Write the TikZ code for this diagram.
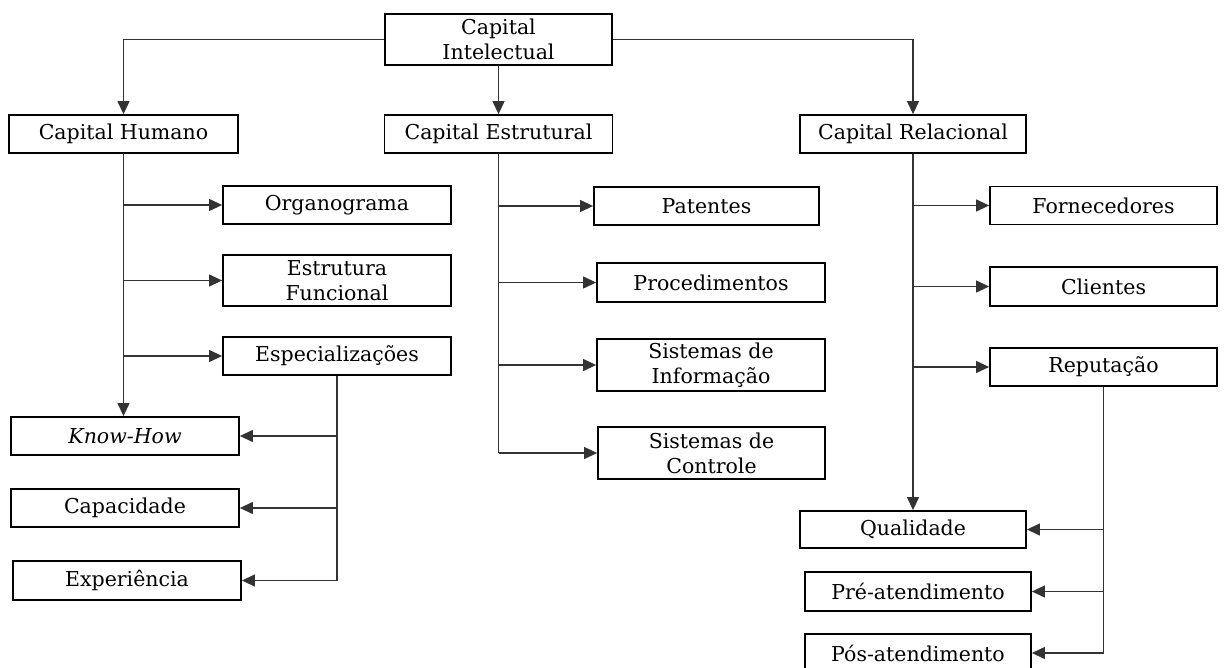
\documentclass[tikz,border=0pt]{standalone}
\usepackage{fontspec}
\setmainfont{DejaVu Serif}
\usetikzlibrary{arrows.meta}
\begin{document}
\begin{tikzpicture}[x=1pt,y=-1pt,
	caixa/.style={draw,line width=1.8pt,align=center,inner sep=0pt,font=\fontsize{20.5}{25}\selectfont},
	seta/.style={-{Triangle[length=13pt,width=12pt]},line width=1.2pt,black!80},
	linha/.style={line width=1.2pt,black!80}]
	\useasboundingbox (0,0) rectangle (1225,668);
	\foreach \n/\x/\y/\w/\h/\gt in {CI/498.5/39.5/227/51/{Capital\\Intelectual},CH/123.5/134/229/38/{Capital Humano},CE/498.5/134/228/38/{Capital Estrutural},CR/913/134/226/38/{Capital Relacional},
		Org/337/205/228/38/Organograma,EF/337/280.5/228/51/{Estrutura\\Funcional},Esp/337/356/228/38/{Especializações},
		KH/125/436/228/38/{\textit{Know-How}},Cap/125/508/228/38/Capacidade,Exp/127/580.5/228/39/{Experiência},
		Pat/706.5/206/225/38/Patentes,Proc/711/282.5/228/39/Procedimentos,SI/711/365/228/52/{Sistemas de\\Informação},SC/711.5/453/227/52/{Sistemas de\\Controle},
		Forn/1103.5/205.5/227/38/Fornecedores,Cli/1103.5/286.5/227/39/Clientes,Rep/1103.5/367/227/38/{Reputação},
		Qual/913/529.5/226/37/Qualidade,Pre/918/591.5/226/39/{Pré-atendimento},Pos/918/653/226/38/{Pós-atendimento}}
		\node[caixa,minimum width=\w,minimum height=\h] (\n) at (\x,\y) {\gt};
	% raiz
	\draw[seta] (CI.west) -| (CH.north);
	\draw[seta] (CI.east) -| (CR.north);
	\draw[seta] (CI.south) -- (CE.north);
	% troncos
	\draw[seta] (CH.south) -- (CH.south |- KH.north);
	\draw[linha] (Esp.south) -- (Esp.south |- Exp);
	\draw[linha] (CE.south) -- (CE.south |- SC);
	\draw[seta] (CR.south) -- (Qual.north);
	\draw[linha] (Rep.south) -- (Rep.south |- Pos);
	% ramos
	\foreach \t/\b in {CH/Org,CH/EF,CH/Esp,CE/Pat,CE/Proc,CE/SI,CE/SC,CR/Forn,CR/Cli,CR/Rep}\draw[seta] (\t.south |- \b) -- (\b.west);
	\foreach \t/\b in {Esp/KH,Esp/Cap,Esp/Exp,Rep/Qual,Rep/Pre,Rep/Pos}\draw[seta] (\t.south |- \b) -- (\b.east);
\end{tikzpicture}
\end{document}
